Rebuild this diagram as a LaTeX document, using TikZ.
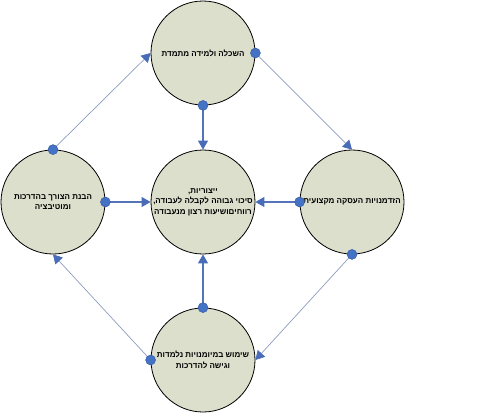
\documentclass[tikz,border=0pt]{standalone}
\usepackage{fontspec}
\usetikzlibrary{arrows.meta}
\newfontfamily\hebfont[Script=Hebrew]{Liberation Sans}
\TeXXeTstate=1
\definecolor{circfill}{RGB}{220,223,204}
\definecolor{dotblue}{RGB}{68,114,196}
\definecolor{dotedge}{RGB}{52,88,160}
\definecolor{mainline}{RGB}{84,116,186}
\definecolor{sideline}{RGB}{140,155,190}
\definecolor{tipblue}{RGB}{72,108,184}
\tikzset{
  bubble/.style={circle,draw=black,line width=0.8pt,fill=circfill,minimum size=104pt,inner sep=0pt,
    align=center,font=\hebfont\bfseries\fontsize{8}{10.5}\selectfont},
  dotmark/.style={circle,fill=dotblue,draw=dotedge,line width=0.4pt,minimum size=10pt,inner sep=0pt},
  mainarrow/.style={draw=mainline,line width=1.1pt,-{Triangle[length=9pt,width=10pt,color=tipblue,fill=tipblue]}},
  sidearrow/.style={draw=sideline,line width=0.7pt,-{Triangle[length=9pt,width=10pt,color=tipblue,fill=tipblue]}}
}
\begin{document}
\begin{tikzpicture}[x=1pt,y=-1pt]
\useasboundingbox (0,0) rectangle (500,413);
\node[bubble] (top) at (203,53) {\beginR השכלה ולמידה מתמדת\endR};
\node[bubble] (mid) at (203,202) {\beginR ייצוריות,\endR\\\beginR סיכוי גבוהה לקבלה לעבודה,\endR\\\beginR רווחיםושיעות רצון מנעבודה\endR};
\node[bubble] (lft) at (53,202) {\beginR הבנת הצורך בהדרכות\endR\\\beginR ומוטיבציה\endR};
\node[bubble] (rgt) at (352,202) {\beginR הזדמנויות העסקה מקצועית\endR};
\node[bubble] (bot) at (203,360) {\beginR שימוש במיומנויות נלמדות\endR\\\beginR וגישה להדרכות\endR};
% connectors to centre
\draw[mainarrow] (top.south) -- (mid.north);
\draw[mainarrow] (lft.east) -- (mid.west);
\draw[mainarrow] (rgt.west) -- (mid.east);
\draw[mainarrow] (bot.north) -- (mid.south);
% cycle connectors
\draw[sidearrow] (lft.north) -- (top.west);
\draw[sidearrow] (top.east) -- (rgt.north);
\draw[sidearrow] (rgt.south) -- (bot.east);
\draw[sidearrow] (bot.west) -- (lft.south);
% dots
\node[dotmark] (d1) at (top.south) {};
\node[dotmark] (d2) at (top.east) {};
\node[dotmark] (d3) at (lft.north) {};
\node[dotmark] (d4) at (lft.east) {};
\node[dotmark] (d5) at (rgt.west) {};
\node[dotmark] (d6) at (rgt.south) {};
\node[dotmark] (d7) at (bot.north) {};
\node[dotmark] (d8) at (bot.west) {};
\end{tikzpicture}
\end{document}
